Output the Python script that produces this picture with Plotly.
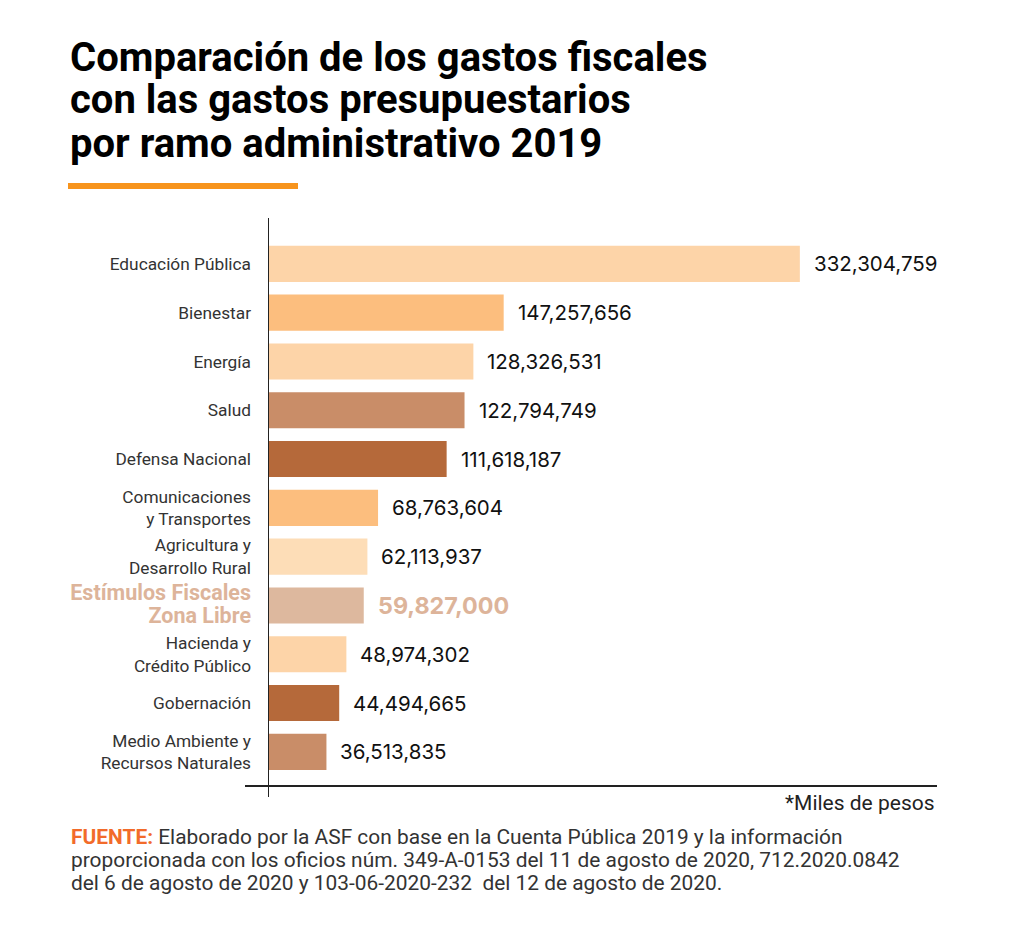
import plotly.graph_objects as go

# datos en miles de pesos
ramos = [
    "Educación Pública",
    "Bienestar",
    "Energía",
    "Salud",
    "Defensa Nacional",
    "Comunicaciones<br>y Transportes",
    "Agricultura y<br>Desarrollo Rural",
    "Estímulos Fiscales<br>Zona Libre",
    "Hacienda y<br>Crédito Público",
    "Gobernación",
    "Medio Ambiente y<br>Recursos Naturales",
]
gastos = [
    332304759,
    147257656,
    128326531,
    122794749,
    111618187,
    68763604,
    62113937,
    59827000,
    48974302,
    44494665,
    36513835,
]
colores = [
    "#FDD4A8", "#FCBE7E", "#FDD4A8", "#C98D68", "#B5693A", "#FCBE7E",
    "#FDDDB7", "#DDB89E", "#FDD4A8", "#B5693A", "#C98D68",
]
destacado = "Estímulos Fiscales<br>Zona Libre"
color_destacado = "#DDB49A"

titulo = [
    "Comparación de los gastos fiscales",
    "con las gastos presupuestarios",
    "por ramo administrativo 2019",
]
fuente = [
    "<b><span style='color:#F26B2A'>FUENTE:</span></b> Elaborado por la ASF con base en la Cuenta Pública 2019 y la información",
    "proporcionada con los oficios núm. 349-A-0153 del 11 de agosto de 2020, 712.2020.0842",
    "del 6 de agosto de 2020 y 103-06-2020-232  del 12 de agosto de 2020.",
]

pos = list(range(len(ramos)))

# la pagina deja 8px de margen en el body
W, H = 1016, 931
L, R, T, B = 260, 87, 210, 153
PW, PH = W - L - R, H - T - B


def px(xs):
    # x de pantalla -> paper
    return (xs - 8 - L) / PW


def py(ys):
    # y de pantalla -> paper
    return (H - B - (ys - 8)) / PH


ticktext = []
for r in ramos:
    if r == destacado:
        ticktext.append("<span style='color:%s;font-size:21.5px'><b>%s</b></span>" % (color_destacado, r))
    else:
        ticktext.append(r)

fig = go.Figure()
fig.add_trace(go.Bar(
    x=gastos,
    y=pos,
    orientation="h",
    marker=dict(color=colores, line=dict(width=0)),
    width=0.74,
    hoverinfo="skip",
))

# etiquetas de valor
for p, v, r in zip(pos, gastos, ramos):
    if r == destacado:
        txt = "<b>{:,}</b>".format(v)
        f = dict(family="Inter", size=23.3, color=color_destacado)
    else:
        txt = "{:,}".format(v)
        f = dict(family="Inter", size=20.5, color="#111111")
    fig.add_annotation(x=v, y=p, text=txt, showarrow=False, xanchor="left",
                       xshift=12, font=f)

fig.update_layout(
    width=W,
    height=H,
    margin=dict(l=L, r=R, t=T, b=B),
    plot_bgcolor="white",
    paper_bgcolor="white",
    showlegend=False,
    font=dict(family="Roboto", color="#333333"),
    xaxis=dict(range=[0, 418e6], showgrid=False, showticklabels=False,
               zeroline=False, showline=False, fixedrange=True),
    yaxis=dict(range=[10.7, -0.94], tickmode="array", tickvals=pos,
               ticktext=ticktext, showgrid=False, zeroline=False,
               showline=False, ticks="", ticklabelstandoff=16,
               tickfont=dict(family="Roboto", size=17.3, color="#333333")),
)

# ejes dibujados a mano
fig.add_shape(type="line", xref="x", yref="paper", x0=0, x1=0, y0=py(797), y1=1,
              line=dict(color="#222222", width=2))
fig.add_shape(type="line", xref="paper", yref="paper", x0=px(245), x1=1, y0=0, y1=0,
              line=dict(color="#222222", width=2))

# titulo
for linea, yc in zip(titulo, [57, 100, 143]):
    fig.add_annotation(
        xref="paper", yref="paper", x=px(68), y=py(yc), xanchor="left", yanchor="middle",
        text="<b>%s</b>" % linea, showarrow=False, align="left",
        font=dict(family="Roboto", size=40, color="#000000"),
    )
fig.add_shape(type="rect", xref="paper", yref="paper", x0=px(68), x1=px(298),
              y0=py(189), y1=py(183), fillcolor="#F7941D", line=dict(width=0))

# notas
fig.add_annotation(xref="paper", yref="paper", x=1, y=py(803), xanchor="right", yanchor="middle",
                   text="*Miles de pesos", showarrow=False,
                   font=dict(family="Roboto", size=21, color="#222222"))
for linea, yc in zip(fuente, [837, 860, 883]):
    fig.add_annotation(
        xref="paper", yref="paper", x=px(69), y=py(yc), xanchor="left", yanchor="middle",
        align="left", showarrow=False, text=linea,
        font=dict(family="Roboto", size=20.9, color="#333333"),
    )

fig.write_html("out.html")
